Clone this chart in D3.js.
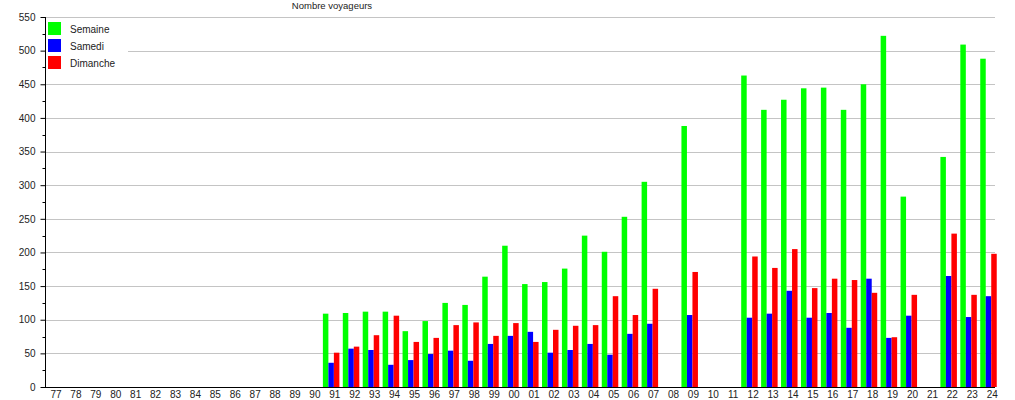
<!DOCTYPE html>
<html><head><meta charset="utf-8">
<script src="https://cdn.jsdelivr.net/npm/d3@7"></script>
<style>body{margin:0;background:#fff}svg{display:block;font-family:"Liberation Sans",Arial,sans-serif}</style>
</head><body><svg id="c" width="1015" height="400"></svg>
<script>
const categories = ["77","78","79","80","81","82","83","84","85","86","87","88","89","90","91","92","93","94","95","96","97","98","99","00","01","02","03","04","05","06","07","08","09","10","11","12","13","14","15","16","17","18","19","20","21","22","23","24"];
const semaine  = [null,null,null,null,null,null,null,null,null,null,null,null,null,null,109,110,112,112,83,98,125,122,164,210,153,156,176,225,201,253,305,null,388,null,null,463,412,427,444,445,412,450,522,283,null,342,509,488];
const samedi   = [null,null,null,null,null,null,null,null,null,null,null,null,null,null,36,57,55,33,40,49,54,39,64,76,82,51,55,64,48,79,94,null,107,null,null,103,109,143,103,110,88,161,73,106,null,165,104,135];
const dimanche = [null,null,null,null,null,null,null,null,null,null,null,null,null,null,51,60,77,106,67,73,92,96,76,95,67,85,91,92,135,107,146,null,171,null,null,194,177,205,147,161,159,140,74,137,null,228,137,198];
const seriesNames = ["Semaine","Samedi","Dimanche"];
const seriesColors = ["#00ff00","#0000ff","#ff0000"];
const yTicks = [0,50,100,150,200,250,300,350,400,450,500,550];
const title = "Nombre voyageurs";

(function(){
const svg = d3.select("#c");
const pL = 45, pR = 995, pT = 17, pB = 387;
const x = d3.scaleBand().domain(categories).range([pL, pL + categories.length * 19.92]).padding(0);
const y = d3.scaleLinear().domain([0, 550]).range([pB, pT]);
const sub = d3.scaleBand().domain(seriesNames).range([0, 16.5]).padding(0);

svg.append("g").selectAll("line").data(yTicks.filter(d => d > 0)).join("line")
  .attr("x1", pL).attr("x2", pR).attr("y1", d => Math.round(y(d)) + 0.5).attr("y2", d => Math.round(y(d)) + 0.5)
  .attr("stroke", "#c4c4c4").attr("stroke-width", 1);

const data = [semaine, samedi, dimanche];
data.forEach((arr, si) => {
  svg.append("g").selectAll("rect").data(categories.map((c, i) => ({c, v: arr[i]})).filter(d => d.v != null)).join("rect")
    .attr("x", d => x(d.c) - 1 + sub(seriesNames[si]))
    .attr("width", sub.bandwidth())
    .attr("y", d => y(d.v))
    .attr("height", d => y(0) - y(d.v))
    .attr("fill", seriesColors[si]);
});

const yAxis = d3.axisLeft(y).tickValues(yTicks).tickSize(5).tickPadding(5);
const gy = svg.append("g").attr("transform", `translate(${pL + 0.5},0)`).call(yAxis);
gy.select(".domain").attr("stroke", "#000").attr("d", `M0,${pB}V${pT}`);
gy.selectAll("text").attr("font-size", 10).attr("fill", "#222").attr("font-family", "Liberation Sans, Arial, sans-serif");
const minor = d3.range(25, 550, 50);
svg.append("g").selectAll("line").data(minor).join("line")
  .attr("x1", pL - 2.5).attr("x2", pL).attr("y1", d => Math.round(y(d)) + 0.5).attr("y2", d => Math.round(y(d)) + 0.5)
  .attr("stroke", "#000");

const xAxis = d3.axisBottom(x).tickSize(0).tickPadding(4);
const gx = svg.append("g").attr("transform", `translate(1,${pB})`).call(xAxis);
gx.select(".domain").attr("d", `M${pL - 1},0.5H${pR - 1}`).attr("stroke", "#000");
gx.selectAll("text").attr("font-size", 10).attr("fill", "#222").attr("font-family", "Liberation Sans, Arial, sans-serif");

svg.append("text").attr("x", 332).attr("y", 9).attr("text-anchor", "middle")
  .attr("font-size", 9.5).attr("fill", "#222").text(title);

const lg = svg.append("g");
lg.append("rect").attr("x", pL + 1).attr("y", 19).attr("width", 82).attr("height", 53).attr("fill", "#fff");
seriesNames.forEach((n, i) => {
  lg.append("rect").attr("x", 48).attr("y", 22 + i * 17).attr("width", 13).attr("height", 13).attr("fill", seriesColors[i]);
  lg.append("text").attr("x", 70).attr("y", 33 + i * 17).attr("font-size", 10).attr("fill", "#222").text(n);
});
})();
</script></body></html>
